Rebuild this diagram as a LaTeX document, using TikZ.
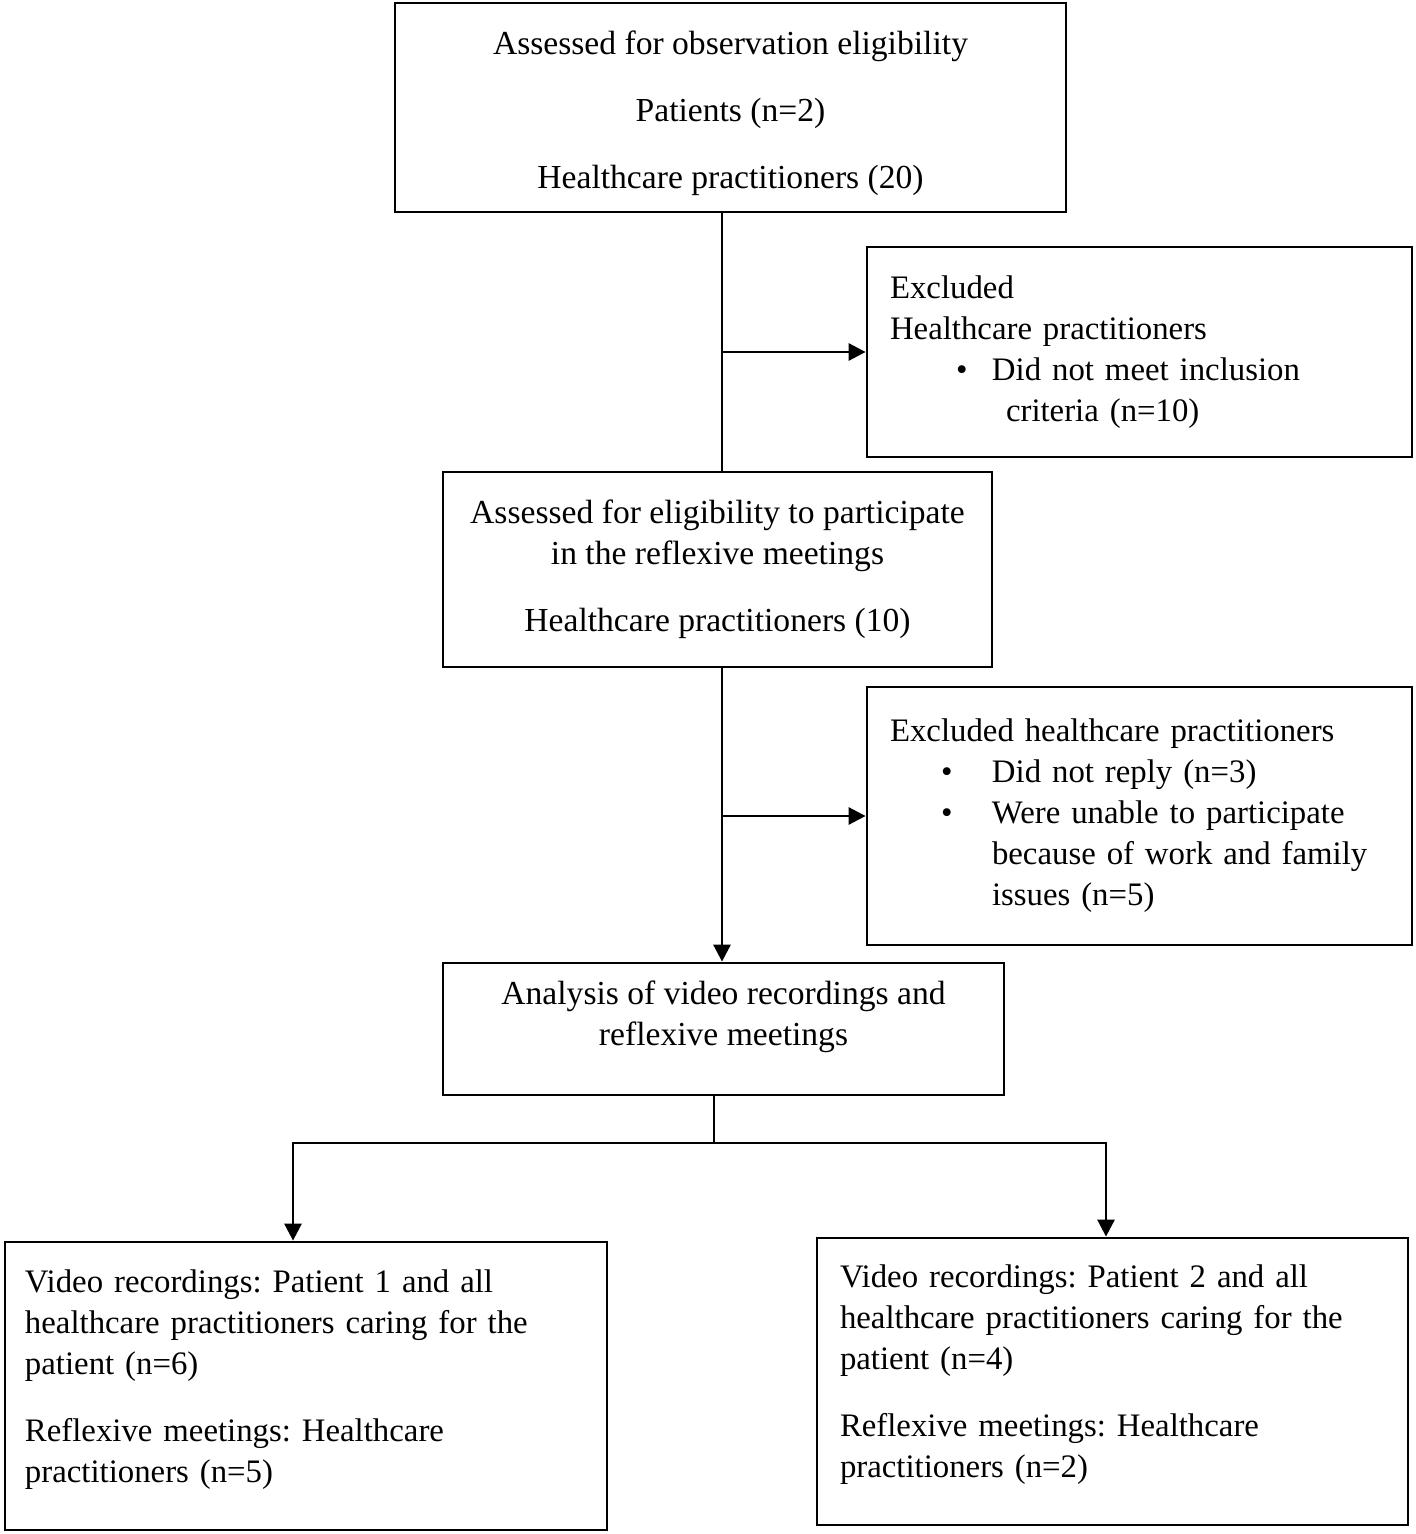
\documentclass[tikz,border=0pt]{standalone}
\usepackage{fontspec}
\setmainfont{Liberation Serif}
\usepackage{tikz}
\usetikzlibrary{positioning, arrows.meta}

\newcommand{\bul}[2]{\hspace*{#1}\makebox[#2][l]{\textbullet}}

\tikzset{
  box/.style={draw, line width=1.4pt, inner ysep=0pt, font=\frenchspacing\fontsize{16.8}{20.5}\selectfont},
  leftbox/.style={box, align=left, font=\frenchspacing\fontsize{16.4}{20.5}\selectfont},
  lin/.style={line width=1.4pt},
  arr/.style={line width=1.4pt, -{Triangle[length=8.5pt,width=8.5pt]}}
}

\begin{document}
\begin{tikzpicture}[x=0.5pt,y=0.5pt,yscale=-1,xscale=1]
\useasboundingbox (0,0) rectangle (1416,1534);

%Shape: Rectangle [id:assess]
\node[box, align=center, minimum width=335.5pt, minimum height=104.5pt] (assess) at (730.5,107.5)
  {\rule{0pt}{18pt}Assessed for observation eligibility\\[13pt]Patients (n=2)\\[13pt]Healthcare practitioners (20)};
%Shape: Rectangle [id:excl1]
\node[leftbox, inner xsep=11.5pt, text width=249.5pt, minimum height=105pt] (excl1) at (1139.5,352)
  {Excluded\\Healthcare practitioners\\
   \bul{33pt}{18pt}Did not meet inclusion\\
   \hspace*{58pt}criteria (n=10)};
%Shape: Rectangle [id:reflex]
\node[box, align=center, minimum width=274.5pt, minimum height=97.5pt] (reflex) at (717.5,569.5)
  {Assessed for eligibility to participate\\in the reflexive meetings\\[13pt]Healthcare practitioners (10)};
%Shape: Rectangle [id:excl2]
\node[leftbox, inner xsep=11.5pt, text width=249.5pt, minimum height=129pt] (excl2) at (1139.5,816)
  {Excluded healthcare practitioners\\
   \bul{25.5pt}{25.5pt}Did not reply (n=3)\\
   \bul{25.5pt}{25.5pt}Were unable to participate\\
   \hspace*{51pt}because of work and family\\
   \hspace*{51pt}issues (n=5)};
%Shape: Rectangle [id:analysis]
\node[box, align=center, minimum width=280.5pt, minimum height=66pt] (analysis) at (723.5,1029)
  {Analysis of video recordings and\\reflexive meetings\\[-4.5pt]\mbox{}};
%Shape: Rectangle [id:pat1]
\node[leftbox, inner xsep=10pt, text width=281pt, minimum height=144pt] (pat1) at (306,1386)
  {Video recordings: Patient 1 and all\\healthcare practitioners caring for the\\patient (n=6)\\[13pt]
   Reflexive meetings: Healthcare\\practitioners (n=5)\\[-10.5pt]\mbox{}};
%Shape: Rectangle [id:pat2]
\node[leftbox, inner xsep=11.5pt, text width=272.5pt, minimum height=143.5pt] (pat2) at (1112.5,1381.5)
  {Video recordings: Patient 2 and all\\healthcare practitioners caring for the\\patient (n=4)\\[13pt]
   Reflexive meetings: Healthcare\\practitioners (n=2)\\[-10.5pt]\mbox{}};

%Straight Lines
\coordinate (trunk) at (722,0);
\draw[lin] (assess.south -| trunk) -- (reflex.north -| trunk);
\draw[arr] (trunk |- excl1.west) -- (excl1.west);
\draw[arr] (reflex.south -| trunk) -- (analysis.north -| trunk);
\draw[arr] (trunk |- excl2.west) -- (excl2.west);

%Fork
\coordinate (split) at (714,1143);
\coordinate (forkL) at (293,1143);
\coordinate (forkR) at (1106,1143);
\draw[lin] (analysis.south -| split) -- (split);
\draw[arr] (split) -- (forkL) -- (forkL |- pat1.north);
\draw[arr] (split) -- (forkR) -- (forkR |- pat2.north);

\end{tikzpicture}
\end{document}
